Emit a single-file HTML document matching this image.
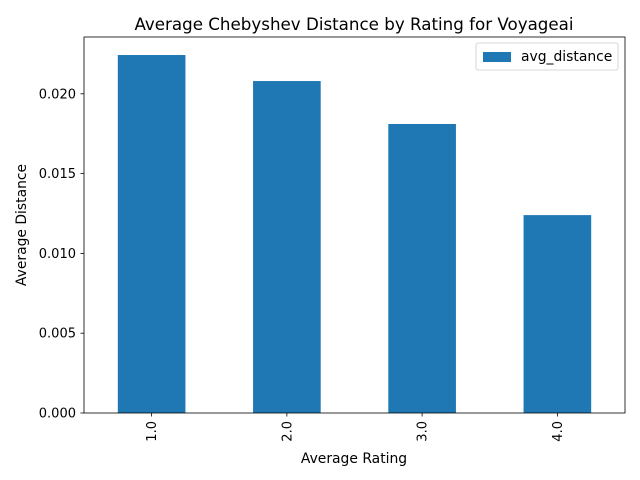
<!DOCTYPE html>
<html><head><meta charset="utf-8"><style>
body{margin:0;background:#fff;}
svg{display:block;font-family:"DejaVu Sans","Liberation Sans",sans-serif;}
</style></head><body>
<svg id="chart" width="640" height="480">
<rect width="640" height="480" fill="#fff"/>
<text x="354" y="30" font-size="16.7" text-anchor="middle">Average Chebyshev Distance by Rating for Voyageai</text>
<g id="bars"></g>
<g id="yticks"></g>
<g id="xticks"></g>
<rect x="84" y="37" width="541" height="376" fill="none" stroke="#000" stroke-width="0.8"/>
<text x="354" y="463" font-size="13.9" text-anchor="middle">Average Rating</text>
<text transform="translate(26,225) rotate(-90)" font-size="13.9" text-anchor="middle">Average Distance</text>
<g>
<rect x="476" y="43" width="142" height="27" rx="2" fill="#fff" stroke="#ccc" stroke-width="0.8"/>
<rect x="483" y="52" width="28" height="10" fill="#1f77b4"/>
<text x="521" y="61" font-size="13.9">avg_distance</text>
</g>
</svg>
<script>
const categories=["1.0","2.0","3.0","4.0"];
const values=[0.02243,0.0208,0.01811,0.0124];
const yTicks=[0,0.005,0.01,0.015,0.02];
const yTickLabels=["0.000","0.005","0.010","0.015","0.020"];
const L=84,R=625,T=37,B=413,yMax=0.02356;
const NS="http://www.w3.org/2000/svg";
const y=v=>B-(v/yMax)*(B-T);
const step=(R-L)/categories.length;
const x=i=>L+step*(i+0.5);
const bw=step*0.5;
function mk(tag,attrs,parent){const e=document.createElementNS(NS,tag);for(const k in attrs)e.setAttribute(k,attrs[k]);parent.appendChild(e);return e;}
const gb=document.getElementById('bars'),gy=document.getElementById('yticks'),gx=document.getElementById('xticks');
values.forEach((v,i)=>{
 const r=mk('rect',{x:x(i)-bw/2,y:y(v),width:bw,height:B-y(v),fill:'#1f77b4'},gb);
 
 
});
yTicks.forEach((t,i)=>{
 const l=mk('line',{x1:L-3.5,x2:L,y1:y(t),y2:y(t),stroke:'#000','stroke-width':0.8},gy);
 
 
 const tx=mk('text',{x:L-8,y:y(t)+4.5,'font-size':13,'text-anchor':'end'},gy);
 tx.textContent=yTickLabels[i];
 
 
});
categories.forEach((c,i)=>{
 const l=mk('line',{x1:x(i),x2:x(i),y1:B,y2:B+3.5,stroke:'#000','stroke-width':0.8},gx);
 
 
 const tx=mk('text',{transform:`translate(${x(i)+4.5},${B+8}) rotate(-90)`,'font-size':13,'text-anchor':'end'},gx);
 tx.textContent=c;
 
 
});
</script>
</body></html>
